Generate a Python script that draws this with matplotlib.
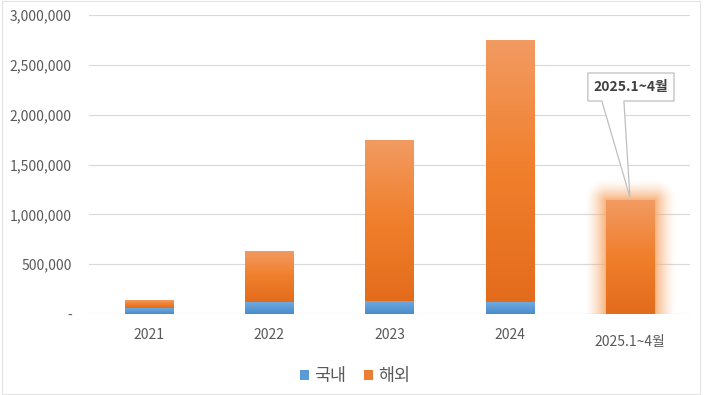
import matplotlib
matplotlib.use("Agg")
import matplotlib.pyplot as plt
import numpy as np
from matplotlib.colors import LinearSegmentedColormap
from matplotlib.patches import Polygon, Rectangle
from matplotlib.ticker import FuncFormatter

plt.rcParams["font.family"] = ["Noto Sans CJK KR", "DejaVu Sans"]

# values
categories = ["2021", "2022", "2023", "2024", "2025.1~4월"]
domestic = [60000, 120000, 130000, 120000, 15000]      # 국내
overseas = [80000, 512000, 1615000, 2630000, 1128000]  # 해외
yticks = [0, 500000, 1000000, 1500000, 2000000, 2500000, 3000000]
callout_text = "2025.1~4월"

TXT = "#595959"
GRID = "#D9D9D9"
BLUE = "#5B9BD5"
ORANGE = "#ED7D31"

fig = plt.figure(figsize=(7.06, 3.95), dpi=100)
ax = fig.add_axes([89 / 706, 1 - 314 / 395, 601 / 706, 299 / 395])
x = np.arange(len(categories))
w = 0.4

ax.set_xlim(-0.5, len(categories) - 0.5)
ax.set_ylim(0, 3000000)

blue_cm = LinearSegmentedColormap.from_list("b", ["#4A8BCB", "#5B9BD5", "#6FA9DD"])
orange_cm = LinearSegmentedColormap.from_list("o", ["#E36C1C", "#F07F2C", "#F29B62"])
grad = np.linspace(0, 1, 256).reshape(-1, 1)

b1 = ax.bar(x, domestic, w, color=BLUE, label="국내", zorder=3)
b2 = ax.bar(x, overseas, w, bottom=domestic, color=ORANGE, label="해외", zorder=3)

# vertical gradient fill, clipped to each bar
for bars, cm in ((b1, blue_cm), (b2, orange_cm)):
    for p in bars:
        x0, y0 = p.get_x(), p.get_y()
        im = ax.imshow(grad, cmap=cm, origin="lower", aspect="auto", zorder=3.5,
                       extent=(x0, x0 + p.get_width(), y0, y0 + p.get_height()))
        im.set_clip_path(p)

# soft orange glow round the last bar
last = b2[-1]
fig.canvas.draw()
sx = ax.transData.transform((1, 0))[0] - ax.transData.transform((0, 0))[0]
sy = ax.transData.transform((0, 1))[1] - ax.transData.transform((0, 0))[1]
gx0, gx1 = last.get_x(), last.get_x() + last.get_width()
gy0, gy1 = 0, last.get_y() + last.get_height()
m = 22
xs = np.linspace(gx0 - m / sx, gx1 + m / sx, 240)
ys = np.linspace(gy0, gy1 + m / sy, 240)
XX, YY = np.meshgrid(xs, ys)
dx = np.maximum(np.maximum(gx0 - XX, XX - gx1), 0) * sx
dy = np.maximum(YY - gy1, 0) * sy
d = np.hypot(dx, dy)
alpha = np.clip(1 - d / m, 0, 1) ** 1.6 * 0.85
rgba = np.zeros(d.shape + (4,))
rgba[..., :3] = matplotlib.colors.to_rgb("#F7A463")
rgba[..., 3] = alpha
ax.imshow(rgba, origin="lower", aspect="auto", zorder=2,
          extent=(xs[0], xs[-1], ys[0], ys[-1]))
ax.set_xlim(-0.5, len(categories) - 0.5)
ax.set_ylim(0, 3000000)

ax.set_yticks(yticks)
ax.yaxis.set_major_formatter(FuncFormatter(lambda v, _: "-" if v == 0 else f"{v:,.0f}"))
ax.set_xticks(x)
ax.set_xticklabels(categories)
ax.tick_params(length=0, labelsize=10, labelcolor=TXT)
ax.tick_params(axis="y", pad=12.5)
ax.tick_params(axis="x", pad=10)
ax.get_xticklabels()[-1].set_y(-0.024)
ax.grid(axis="y", color=GRID, lw=0.8, zorder=0)
for s in ax.spines.values():
    s.set_visible(False)
ax.axhline(0, color=GRID, lw=0.8, zorder=1)

# callout box with pointer
px = lambda v: (v - 89) / 120 - 0.5
py = lambda v: (314 - v) / 299 * 3000000
shape = [(px(587), py(73)), (px(673), py(73)), (px(673), py(101)), (px(623), py(101)),
         (px(629), py(197)), (px(601), py(101)), (px(587), py(101))]
ax.add_patch(Polygon(shape, closed=True, fc="white", ec="#BFBFBF", lw=0.9, zorder=5))
ax.text(px(630), py(87), callout_text, ha="center", va="center", fontsize=10,
        fontweight="bold", color="#404040", zorder=6)

leg = fig.legend(loc="center", bbox_to_anchor=(355 / 706, 1 - 376 / 395), ncol=2,
                 frameon=False, fontsize=12.5, handlelength=0.55, handleheight=0.55,
                 handletextpad=0.3, columnspacing=1.0)
for t in leg.get_texts():
    t.set_color(TXT)

fig.patches.append(Rectangle((0.003, 0.003), 0.988, 0.994, transform=fig.transFigure,
                             fill=False, ec="#E3E3E3", lw=0.8))

fig.savefig("out.png", dpi=100)
